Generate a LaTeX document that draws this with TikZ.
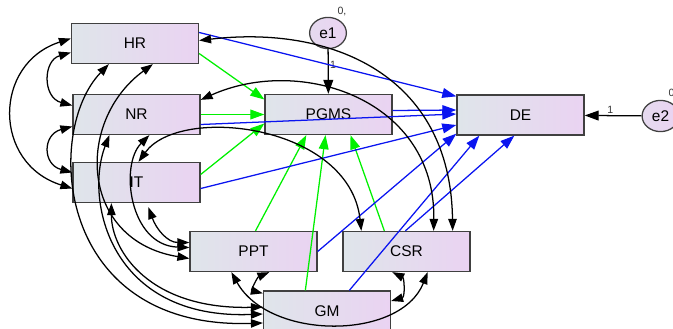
\documentclass[tikz,border=0pt]{standalone}
\usepackage{fontspec}
\setmainfont{Liberation Sans}
\usetikzlibrary{arrows.meta, calc, shapes.geometric}

\definecolor{boxleft}{HTML}{DFE5EA}
\definecolor{boxright}{HTML}{EAD3F2}
\definecolor{pathgreen}{HTML}{00F000}
\definecolor{pathblue}{HTML}{0A14F0}

\begin{document}
\begin{tikzpicture}[x=0.025cm, y=-0.025cm, font=\fontsize{11}{13}\selectfont,
    var/.style={draw=black!75, line width=0.9pt, left color=boxleft, right color=boxright, minimum width=3.175cm, minimum height=1cm, inner sep=1pt},
    err/.style={ellipse, draw=black!75, line width=0.9pt, left color=boxleft!40!boxright, right color=boxright, minimum width=0.92cm, minimum height=0.78cm, inner sep=0pt},
    covar/.style={{Triangle[length=8.5pt,width=6pt]}-{Triangle[length=8.5pt,width=6pt]}, line width=0.9pt},
    greenarrow/.style={-{Triangle[length=10pt,width=7pt]}, pathgreen, line width=0.9pt},
    bluearrow/.style={-{Triangle[length=10pt,width=7pt]}, pathblue, line width=0.9pt},
    fixed/.style={-{Triangle[length=10pt,width=7pt]}, line width=0.9pt},
    lbl/.style={font=\fontsize{7.5}{9}\selectfont, text=black!80, inner sep=1pt}
]
    \useasboundingbox (0,0) rectangle (673,329);

    % observed variables
    \node[var] (HR) at (135,43.5) {HR};
    \node[var] (NR) at (136.5,114.5) {NR};
    \node[var] (IT) at (136.5,182.5) {IT};
    \node[var] (PGMS) at (328.5,114.5) {PGMS};
    \node[var] (DE) at (520.5,115) {DE};
    \node[var] (PPT) at (253.5,251.5) {PPT};
    \node[var] (CSR) at (406.5,251.5) {CSR};
    \node[var] (GM) at (327,311) {GM};

    % error terms
    \node[err] (e1) at (328,33) {e1};
    \node[err] (e2) at (660.5,116) {e2};
    \node[lbl] (v1) at (342,11) {0,};
    \node[lbl] (v2) at (673,93) {0,};

    \draw[fixed] (e1) -- node[lbl, pos=0.35, right] {1} (PGMS);
    \draw[fixed] (e2) -- node[lbl, pos=0.55, above] {1} (DE);

    % paths to PGMS
    \draw[greenarrow] ($(HR.east)+(0,10)$) -- ($(PGMS.west)+(0,-15)$);
    \draw[greenarrow] (NR.east) -- (PGMS.west);
    \draw[greenarrow] ($(IT.east)+(0,-8)$) -- ($(PGMS.west)+(0,9)$);
    \draw[greenarrow] ($(PPT.north)+(2,0)$) -- ($(PGMS.south west)+(42,0)$);
    \draw[greenarrow] ($(GM.north west)+(42.5,0)$) -- ($(PGMS.south)+(-3,0)$);
    \draw[greenarrow] ($(CSR.north west)+(42,0)$) -- ($(PGMS.south)+(22,0)$);

    % paths to DE
    \draw[bluearrow] ($(HR.east)+(0,-11)$) -- ($(DE.north west)+(0,2)$);
    \draw[bluearrow] ($(NR.east)+(0,10)$) -- ($(DE.west)+(0,-1)$);
    \draw[bluearrow] ($(PGMS.east)+(0,-4)$) -- ($(DE.west)+(0,-5)$);
    \draw[bluearrow] ($(IT.east)+(0,6)$) -- ($(DE.west)+(0,10)$);
    \draw[bluearrow] (PPT.east) -- ($(DE.south west)+(0,-2)$);
    \draw[bluearrow] ($(GM.north west)+(86.5,0)$) -- ($(DE.south west)+(23,0)$);
    \draw[bluearrow] ($(CSR.north west)+(63,0)$) -- ($(DE.south west)+(58,0)$);

    % covariances
    \draw[covar] ($(HR.west)+(0,9)$) .. controls +(-28,8) and +(-30,-8) .. ($(NR.west)+(0,-9)$);
    \draw[covar] ($(NR.west)+(0,12)$) .. controls +(-30,8) and +(-30,-8) .. ($(IT.west)+(0,-10)$);
    \draw[covar] ($(HR.west)+(0,-5)$) .. controls +(-78,25) and +(-80,-25) .. ($(IT.west)+(0,6)$);
    \draw[covar] ($(HR.south west)+(38,0)$) .. controls +(-65,67) and +(-208,7) .. ($(GM.west)+(0,12)$);
    \draw[covar] ($(HR.south west)+(82,0)$) .. controls +(-78,57) and +(-110,-18) .. ($(PPT.west)+(0,7)$);
    \draw[covar] ($(NR.south west)+(77,0)$) .. controls +(-30,30) and +(-60,-2) .. ($(PPT.west)+(0,-4)$);
    \draw[covar] ($(NR.south west)+(37,0)$) .. controls +(-25,65) and +(-153,6) .. ($(GM.west)+(0,3)$);
    \draw[covar] ($(IT.south west)+(39,0)$) .. controls +(0,48) and +(-113,3) .. ($(GM.west)+(0,-4)$);
    \draw[covar] ($(IT.south west)+(76,4)$) .. controls +(8,22) and +(-22,0) .. ($(PPT.west)+(0,-9)$);
    \draw[covar] ($(HR.east)+(0,-3)$) .. controls +(131.5,-15.5) and +(-2,-156.5) .. ($(CSR.north east)+(-18,0)$);
    \draw[covar] ($(NR.north east)+(0,6)$) .. controls +(100,-45) and +(2,-131.5) .. ($(CSR.north east)+(-37,0)$);
    \draw[covar] ($(IT.north)+(2,0)$) .. controls +(41.5,-57.5) and +(-12,-106.5) .. ($(CSR.north west)+(19,0)$);
    \draw[covar] ($(PPT.south west)+(42,0)$) .. controls +(38,68.5) and +(-27,68.5) .. ($(CSR.south east)+(-43,0)$);
    \draw[covar] ($(PPT.south west)+(80,0)$) .. controls +(-12,5) and +(-12,-3) .. ($(GM.north west)+(0,3)$);
    \draw[covar] ($(CSR.south west)+(50,0)$) .. controls +(12,6) and +(14,-4) .. ($(GM.east)+(0,-10)$);
\end{tikzpicture}
\end{document}
